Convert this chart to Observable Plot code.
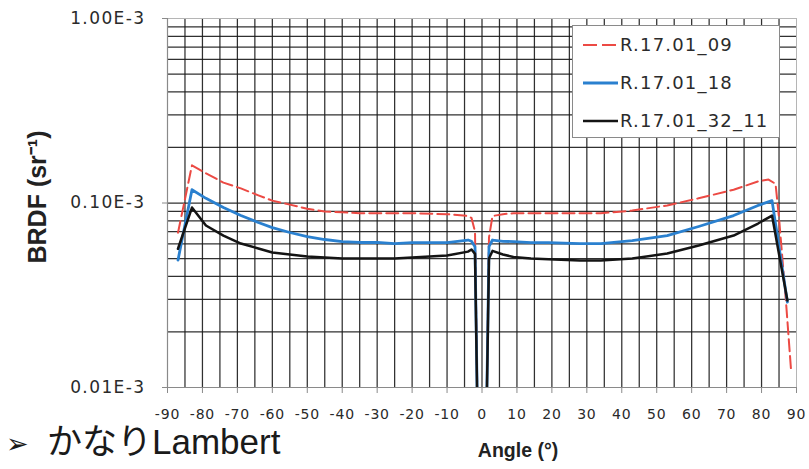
<!DOCTYPE html>
<html><head><meta charset="utf-8">
<script src="https://cdn.jsdelivr.net/npm/d3@7"></script>
<script src="https://cdn.jsdelivr.net/npm/@observablehq/plot@0.6"></script>
<style>
body{margin:0;background:#fff;}
#wrap{position:relative;width:809px;height:469px;overflow:hidden;background:#fff;}
#wrap > svg{position:absolute;left:0;top:0;}
g[aria-label="y-axis tick label"] text{letter-spacing:1.4px;}
g[aria-label="x-axis tick label"] text{letter-spacing:0.8px;}
.legend{position:absolute;left:572px;top:25px;width:208px;height:113px;box-sizing:border-box;border:1px solid #8a8a8a;background:#fff;}
.legend .row{position:absolute;left:0;height:24px;display:flex;align-items:center;}
.legend .row svg{display:block;flex:none;}
.legend .row span{font-family:"DejaVu Sans",sans-serif;font-size:18px;letter-spacing:1.2px;color:#2b2b2b;margin-left:1px;line-height:24px;}
.note{position:absolute;left:0;top:425px;width:400px;height:44px;font-family:"Liberation Sans","Noto Sans CJK JP",sans-serif;font-size:35px;color:#1a1a1a;white-space:nowrap;}
.note .arrow{position:absolute;left:6px;top:5px;font-family:"DejaVu Sans",sans-serif;font-size:27px;line-height:1;}
.note .txt{position:absolute;left:47px;top:-4px;line-height:1.2;}
</style></head><body>
<div id="wrap"></div>
<script>
// ---- data ----
const seriesNames = ["R.17.01_09", "R.17.01_18", "R.17.01_32_11"];
const seriesColors = ["#ec4a44", "#2a80cf", "#141414"];

const angles09 = [-87, -83, -79, -74, -69, -64, -60, -55, -50, -45, -40, -35, -30, -25, -20, -10, -4, -3, -2, -1, 0, 1, 2, 3, 6, 9, 19, 28, 34, 43, 53, 62, 72, 79, 82, 84, 85, 87, 88.5];
const brdf09 = [6.9e-5, 1.60e-4, 1.45e-4, 1.29e-4, 1.20e-4, 1.10e-4, 1.03e-4, 9.8e-5, 9.3e-5, 9.0e-5, 8.9e-5, 8.8e-5, 8.8e-5, 8.8e-5, 8.8e-5, 8.7e-5, 8.5e-5, 8.3e-5, 7.0e-5, 3e-6, 1e-6, 3e-6, 6.5e-5, 8.5e-5, 8.7e-5, 8.8e-5, 8.8e-5, 8.8e-5, 8.8e-5, 9.1e-5, 9.7e-5, 1.06e-4, 1.18e-4, 1.31e-4, 1.34e-4, 1.27e-4, 8.3e-5, 2.9e-5, 1.2e-5];

const angles18 = [-87, -83, -79, -74, -69, -64, -60, -55, -50, -45, -40, -35, -30, -25, -20, -10, -4, -3, -2, -1, 0, 1, 2, 3, 6, 9, 14, 19, 28, 34, 43, 53, 62, 72, 79, 83, 87.4];
const brdf18 = [4.9e-5, 1.18e-4, 1.06e-4, 9.45e-5, 8.55e-5, 7.84e-5, 7.36e-5, 6.92e-5, 6.58e-5, 6.34e-5, 6.18e-5, 6.11e-5, 6.11e-5, 6.03e-5, 6.1e-5, 6.1e-5, 6.3e-5, 6.2e-5, 5.8e-5, 3e-6, 1e-6, 3e-6, 5.8e-5, 6.3e-5, 6.2e-5, 6.18e-5, 6.1e-5, 6.1e-5, 6.03e-5, 6.03e-5, 6.26e-5, 6.66e-5, 7.46e-5, 8.55e-5, 9.7e-5, 1.03e-4, 2.9e-5];

const angles32 = [-87, -83, -79, -74, -69, -64, -60, -55, -50, -45, -40, -35, -30, -25, -20, -10, -4, -3, -2, -1, 0, 1, 2, 3, 6, 9, 14, 19, 28, 34, 43, 53, 62, 72, 79, 83, 87.4];
const brdf32 = [5.65e-5, 9.45e-5, 7.55e-5, 6.66e-5, 6.03e-5, 5.67e-5, 5.39e-5, 5.26e-5, 5.13e-5, 5.07e-5, 5.0e-5, 5.0e-5, 5.0e-5, 5.0e-5, 5.07e-5, 5.19e-5, 5.45e-5, 5.6e-5, 5.3e-5, 3e-6, 1e-6, 3e-6, 5.0e-5, 5.5e-5, 5.26e-5, 5.1e-5, 5.0e-5, 4.95e-5, 4.88e-5, 4.88e-5, 5.0e-5, 5.32e-5, 5.88e-5, 6.66e-5, 7.74e-5, 8.55e-5, 2.96e-5];

const xTickValues = [-90, -80, -70, -60, -50, -40, -30, -20, -10, 0, 10, 20, 30, 40, 50, 60, 70, 80, 90];
const xGridValues = [-85, -80, -75, -70, -65, -60, -55, -50, -45, -40, -35, -30, -25, -20, -15, -10, -5, 0, 5, 10, 15, 20, 25, 30, 35, 40, 45, 50, 55, 60, 65, 70, 75, 80, 85];
const yTickValues = [1e-5, 1e-4, 1e-3];
const yTickLabels = ["0.01E-3", "0.10E-3", "1.00E-3"];
const yGridValues = [2e-5, 3e-5, 4e-5, 5e-5, 6e-5, 7e-5, 8e-5, 9e-5, 1e-4, 2e-4, 3e-4, 4e-4, 5e-4, 6e-4, 7e-4, 8e-4, 9e-4];

const xLabel = "Angle (°)";
const yLabel = "BRDF (sr⁻¹)";
const noteText = "かなりLambert";

// ---- build ----
const angleSets = [angles09, angles18, angles32];
const valueSets = [brdf09, brdf18, brdf32];
const rows = seriesNames.map((name, i) => angleSets[i].map((a, j) => ({series: name, angle: a, brdf: valueSets[i][j]})));
const styles = [
  {strokeWidth: 2, strokeDasharray: "12,5"},
  {strokeWidth: 2.8},
  {strokeWidth: 2.5}
];

const chart = Plot.plot({
  width: 809,
  height: 469,
  marginTop: 18,
  marginBottom: 82,
  marginLeft: 167,
  marginRight: 13,
  style: {fontFamily: "DejaVu Sans, sans-serif", background: "white", color: "#2a2a2a"},
  x: {domain: [-90, 90]},
  y: {type: "log", domain: [1e-5, 1e-3]},
  marks: [
    Plot.gridX(xGridValues, {stroke: "#1a1a1a", strokeOpacity: 0.9, strokeWidth: 1.25}),
    Plot.gridY(yGridValues, {stroke: "#1a1a1a", strokeOpacity: 0.9, strokeWidth: 1.25}),
    Plot.frame({stroke: "#b5b5b5"}),
    ...rows.map((r, i) => Plot.line(r, {x: "angle", y: "brdf", stroke: seriesColors[i], ...styles[i], clip: true, strokeLinejoin: "round"})),
    Plot.ruleX([-90], {stroke: "#8a8a8a", strokeWidth: 1.2}),
    Plot.ruleY([1e-5], {stroke: "#8a8a8a", strokeWidth: 1.2}),
    Plot.axisX({ticks: xTickValues, tickFormat: d => String(d), tickSize: 6, tickPadding: 16, fontSize: 14, stroke: "#8a8a8a", label: null}),
    Plot.axisY({ticks: yTickValues, tickFormat: d => yTickLabels[yTickValues.indexOf(d)], tickSize: 5, tickPadding: 17, fontSize: 17, stroke: "#8a8a8a", label: null}),
    Plot.text([xLabel], {text: d => d, frameAnchor: "bottom", dx: 36, dy: 69, fontSize: 19.5, fontWeight: "bold", fill: "#222", fontFamily: "Liberation Sans, sans-serif"}),
    Plot.text([yLabel], {text: d => d, frameAnchor: "left", textAnchor: "middle", dx: -130, dy: -6, rotate: -90, fontSize: 25, fontWeight: "bold", fill: "#222", fontFamily: "Liberation Sans, sans-serif"})
  ]
});

const wrap = document.getElementById("wrap");
wrap.appendChild(chart);

// legend
const legend = document.createElement("div");
legend.className = "legend";
const rowTops = [7, 45, 83];
seriesNames.forEach((name, i) => {
  const row = document.createElement("div");
  row.className = "row";
  row.style.top = rowTops[i] + "px";
  const dash = styles[i].strokeDasharray ? `stroke-dasharray="14,5"` : "";
  row.innerHTML = `<svg width="46" height="24"><line x1="10" x2="45" y1="12" y2="12" stroke="${seriesColors[i]}" stroke-width="${styles[i].strokeWidth}" ${dash}/></svg><span>${name}</span>`;
  legend.appendChild(row);
});
wrap.appendChild(legend);

// note
const note = document.createElement("div");
note.className = "note";
note.innerHTML = `<span class="arrow">➢</span><span class="txt">${noteText}</span>`;
wrap.appendChild(note);
</script>
</body></html>
